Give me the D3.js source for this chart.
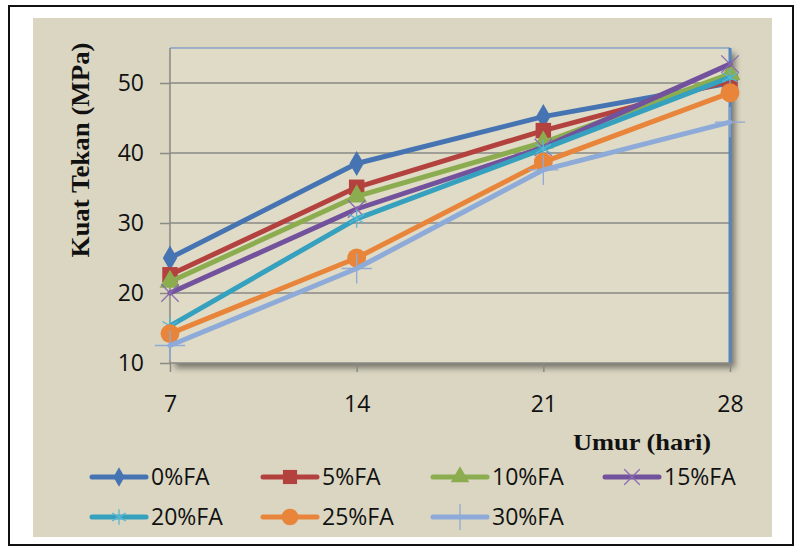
<!DOCTYPE html>
<html><head><meta charset="utf-8">
<script src="https://cdn.jsdelivr.net/npm/d3@7"></script>
<style>html,body{margin:0;padding:0;background:#fff;}svg{display:block;}</style>
</head><body>
<script>
const days = [7, 14, 21, 28];
const seriesNames = ["0%FA", "5%FA", "10%FA", "15%FA", "20%FA", "25%FA", "30%FA"];
const fa0  = [25.0, 38.5, 45.2, 50.0];
const fa5  = [22.6, 35.1, 43.2, 50.3];
const fa10 = [21.6, 33.8, 41.5, 51.3];
const fa15 = [20.0, 32.0, 40.8, 52.7];
const fa20 = [15.3, 30.6, 40.6, 50.8];
const fa25 = [14.2, 25.0, 38.7, 48.6];
const fa30 = [12.5, 23.5, 37.6, 44.4];
const yTicks = [10, 20, 30, 40, 50];
const xTicks = [7, 14, 21, 28];
const yTitle = "Kuat Tekan (MPa)";
const xTitle = "Umur (hari)";

const values = [fa0, fa5, fa10, fa15, fa20, fa25, fa30];
const colors = ["#4674b3", "#b3423f", "#8bad4f", "#72529c", "#36a1bf", "#e8853a", "#8eaad8"];
const markerColors = ["#4674b3", "#b3423f", "#8bad4f", "#8a6bb0", "#58b7d2", "#e8853a", "#8eaad8"];
const symbols = [d3.symbolDiamond, d3.symbolSquare, d3.symbolTriangle, d3.symbolTimes, d3.symbolAsterisk, d3.symbolCircle, d3.symbolPlus];
const symSizes = [180, 240, 190, 200, 220, 280, 300];
const legSizes = [110, 200, 150, 160, 170, 220, 220];
const strokeSym = [false, false, false, true, true, false, true];

const W = 797, H = 547;
const svg = d3.select("body").append("svg").attr("width", W).attr("height", H);
const defs = svg.append("defs");
const f = defs.append("filter").attr("id", "shadow").attr("x", "-5%").attr("y", "-5%").attr("width", "115%").attr("height", "120%");
f.append("feDropShadow").attr("dx", 5).attr("dy", 5).attr("stdDeviation", 3).attr("flood-color", "#000").attr("flood-opacity", 0.45);

// outer frame
svg.append("rect").attr("x", 9).attr("y", 6).attr("width", 784).attr("height", 539)
  .attr("fill", "#fff").attr("stroke", "#111").attr("stroke-width", 2);
svg.append("rect").attr("x", 33).attr("y", 18).attr("width", 739).attr("height", 519).attr("fill", "#dad6c2");

const x = d3.scaleLinear().domain([7, 28]).range([170, 730]);
const y = d3.scaleLinear().domain([10, 55]).range([363, 48]);

// plot area
svg.append("rect").attr("x", x(7)).attr("y", y(55)).attr("width", x(28) - x(7)).attr("height", y(10) - y(55))
  .attr("fill", "#dfdbc6").attr("filter", "url(#shadow)");

// grid
svg.append("g").selectAll("line").data(yTicks.filter(d => d > 10)).join("line")
  .attr("x1", x(7)).attr("x2", x(28)).attr("y1", d => y(d)).attr("y2", d => y(d))
  .attr("stroke", "#8a8a86").attr("stroke-width", 1.5);

// plot border top & right
svg.append("line").attr("x1", x(7)).attr("x2", x(28)).attr("y1", y(55)).attr("y2", y(55)).attr("stroke", "#5b8ac6").attr("stroke-width", 1.2);
svg.append("line").attr("x1", x(28)).attr("x2", x(28)).attr("y1", y(55)).attr("y2", y(10)).attr("stroke", "#5484c2").attr("stroke-width", 3);

// axes
const tickFont = "'Open Sans', 'DejaVu Sans', sans-serif";
const yAxis = svg.append("g").attr("transform", `translate(${x(7)},0)`)
  .call(d3.axisLeft(y).tickValues(yTicks).tickSize(10).tickPadding(16).tickFormat(d3.format("d")));
const xAxis = svg.append("g").attr("transform", `translate(0,${y(10)})`)
  .call(d3.axisBottom(x).tickValues(xTicks).tickSize(9).tickPadding(24).tickFormat(d3.format("d")));
[yAxis, xAxis].forEach(g => {
  g.select(".domain").attr("stroke", "#8a8a86").attr("stroke-width", 1.5);
  g.selectAll(".tick line").attr("stroke", "#8a8a86").attr("stroke-width", 1.5);
  g.selectAll(".tick text").attr("fill", "#111").style("font-family", tickFont).style("font-size", "23px");
});
xAxis.select(".domain").attr("d", `M${x(7)},0H${x(28)}`);
yAxis.select(".domain").attr("d", `M0,${y(10)}V${y(55)}`);

// series
const line = d3.line().x((d, i) => x(days[i])).y(d => y(d));
values.forEach((vals, s) => {
  const g = svg.append("g");
  g.append("path").attr("d", line(vals)).attr("fill", "none").attr("stroke", colors[s])
    .attr("stroke-width", 5).attr("stroke-linejoin", "round").attr("stroke-linecap", "round");
  const sym = d3.symbol().type(symbols[s]).size(symSizes[s]);
  g.selectAll("path.m").data(vals).join("path").attr("class", "m")
    .attr("transform", (d, i) => `translate(${x(days[i])},${y(d)})`)
    .attr("d", sym)
    .attr("fill", strokeSym[s] ? "none" : colors[s])
    .attr("stroke", strokeSym[s] ? markerColors[s] : "none")
    .attr("stroke-width", strokeSym[s] ? 1.3 : 0);
});

// titles
svg.append("text").attr("x", 642).attr("y", 450).attr("text-anchor", "middle")
  .style("font-family", "'Liberation Serif', 'Times New Roman', serif").style("font-weight", "bold").style("font-size", "24px")
  .attr("textLength", 138).attr("lengthAdjust", "spacingAndGlyphs").attr("fill", "#111").text(xTitle);
svg.append("text").attr("transform", "translate(89,150) rotate(-90)").attr("text-anchor", "middle")
  .style("font-family", "'Liberation Serif', 'Times New Roman', serif").style("font-weight", "bold").style("font-size", "26px")
  .attr("textLength", 215).attr("lengthAdjust", "spacingAndGlyphs").attr("fill", "#111").text(yTitle);

// legend
const legX = [92, 263, 433, 605];
const legY = [477, 517];
seriesNames.forEach((name, s) => {
  const col = s < 4 ? s : s - 4, row = s < 4 ? 0 : 1;
  const g = svg.append("g").attr("transform", `translate(${legX[col]},${legY[row]})`);
  g.append("line").attr("x1", 0).attr("x2", 54).attr("stroke", colors[s]).attr("stroke-width", 5).attr("stroke-linecap", "round");
  g.append("path").attr("transform", "translate(27,0)").attr("d", d3.symbol().type(symbols[s]).size(legSizes[s])())
    .attr("fill", strokeSym[s] ? "none" : colors[s])
    .attr("stroke", strokeSym[s] ? markerColors[s] : "none").attr("stroke-width", strokeSym[s] ? 1.3 : 0);
  g.append("text").attr("x", 59).attr("y", 0).attr("dy", "0.36em")
    .style("font-family", tickFont).style("font-size", "23px").attr("fill", "#111").text(name);
});
</script>
</body></html>
